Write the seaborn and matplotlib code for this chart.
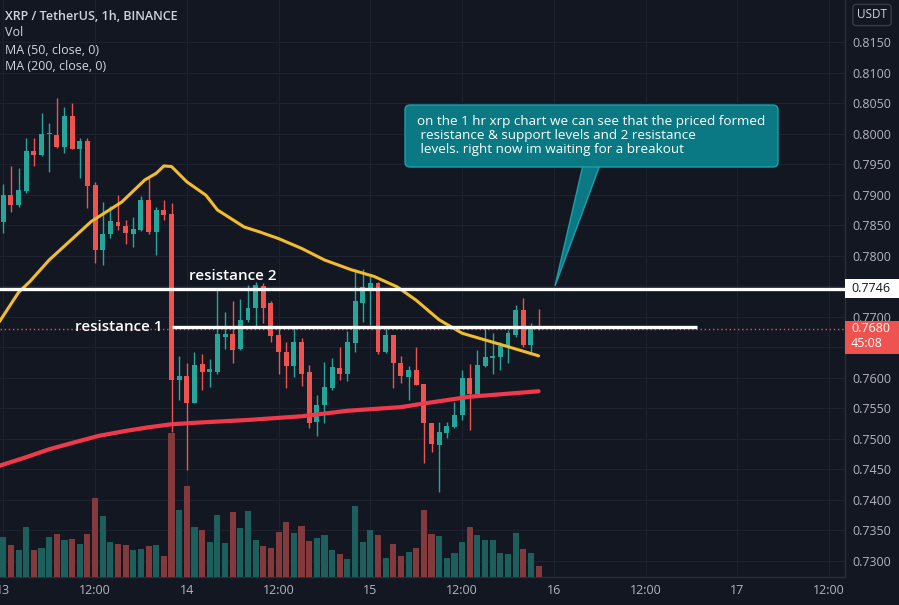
import numpy as np
import pandas as pd
import seaborn as sns
import matplotlib
matplotlib.use("Agg")
import matplotlib.pyplot as plt
from matplotlib.patches import Rectangle, FancyBboxPatch, Polygon
from matplotlib.transforms import blended_transform_factory, IdentityTransform

# ---------------- data (hours since 13 00:00, 1h candles) ----------------
hours = list(range(71))
opens = [0.7855, 0.7899, 0.7883, 0.7906, 0.7971, 0.7965, 0.7999, 0.7998, 0.7978, 0.8029,
         0.7975, 0.7988, 0.7916, 0.7809, 0.7835, 0.7855, 0.7849, 0.7835, 0.7842, 0.7892,
         0.7838, 0.7875, 0.7868, 0.7596, 0.7603, 0.7559, 0.7623, 0.7610, 0.7610, 0.7667,
         0.7671, 0.7647, 0.7694, 0.7715, 0.7750, 0.7722, 0.7670, 0.7643, 0.7619, 0.7659,
         0.7610, 0.7528, 0.7555, 0.7584, 0.7616, 0.7607, 0.7657, 0.7723, 0.7747, 0.7755,
         0.7643, 0.7670, 0.7624, 0.7602, 0.7612, 0.7590, 0.7526, 0.7490, 0.7509, 0.7520,
         0.7539, 0.7599, 0.7573, 0.7619, 0.7633, 0.7634, 0.7652, 0.7670, 0.7711, 0.7654,
         0.7682]
highs = [0.7917, 0.7947, 0.7944, 0.7993, 0.7993, 0.8034, 0.8017, 0.8059, 0.8044, 0.8050,
         0.7993, 0.7993, 0.7921, 0.7888, 0.7881, 0.7899, 0.7858, 0.7864, 0.7898, 0.7927,
         0.7880, 0.7892, 0.7886, 0.7636, 0.7624, 0.7643, 0.7639, 0.7630, 0.7744, 0.7707,
         0.7725, 0.7729, 0.7752, 0.7757, 0.7755, 0.7725, 0.7684, 0.7659, 0.7681, 0.7666,
         0.7621, 0.7572, 0.7626, 0.7632, 0.7650, 0.7677, 0.7778, 0.7779, 0.7768, 0.7757,
         0.7684, 0.7670, 0.7636, 0.7619, 0.7651, 0.7590, 0.7526, 0.7528, 0.7528, 0.7561,
         0.7613, 0.7623, 0.7646, 0.7681, 0.7673, 0.7658, 0.7678, 0.7719, 0.7730, 0.7689,
         0.7712]
lows = [0.7837, 0.7872, 0.7880, 0.7903, 0.7947, 0.7963, 0.7937, 0.7977, 0.7969, 0.7974,
        0.7928, 0.7878, 0.7788, 0.7785, 0.7829, 0.7842, 0.7819, 0.7815, 0.7841, 0.7836,
        0.7801, 0.7858, 0.7511, 0.7564, 0.7449, 0.7558, 0.7580, 0.7585, 0.7607, 0.7648,
        0.7624, 0.7646, 0.7692, 0.7684, 0.7689, 0.7659, 0.7607, 0.7583, 0.7602, 0.7587,
        0.7517, 0.7504, 0.7526, 0.7580, 0.7596, 0.7594, 0.7643, 0.7692, 0.7687, 0.7639,
        0.7640, 0.7583, 0.7591, 0.7564, 0.7588, 0.7460, 0.7479, 0.7413, 0.7501, 0.7517,
        0.7531, 0.7515, 0.7572, 0.7617, 0.7607, 0.7613, 0.7625, 0.7667, 0.7651, 0.7640,
        0.7678]
closes = [0.7899, 0.7883, 0.7908, 0.7971, 0.7965, 0.8000, 0.8001, 0.7978, 0.8029, 0.7975,
          0.7988, 0.7914, 0.7810, 0.7835, 0.7857, 0.7849, 0.7837, 0.7844, 0.7892, 0.7838,
          0.7875, 0.7867, 0.7596, 0.7603, 0.7558, 0.7621, 0.7610, 0.7614, 0.7671, 0.7671,
          0.7646, 0.7695, 0.7715, 0.7752, 0.7714, 0.7668, 0.7643, 0.7619, 0.7659, 0.7607,
          0.7526, 0.7555, 0.7585, 0.7617, 0.7607, 0.7659, 0.7726, 0.7749, 0.7755, 0.7643,
          0.7670, 0.7625, 0.7603, 0.7612, 0.7588, 0.7526, 0.7491, 0.7511, 0.7521, 0.7539,
          0.7599, 0.7573, 0.7621, 0.7634, 0.7636, 0.7652, 0.7673, 0.7711, 0.7654, 0.7681,
          0.7680]
volumes = [120, 97, 80, 150, 82, 87, 120, 130, 110, 114,
           98, 130, 238, 182, 104, 98, 96, 82, 85, 94,
           95, 63, 431, 200, 273, 150, 140, 105, 187, 102,
           195, 147, 198, 110, 93, 87, 135, 164, 132, 153,
           109, 117, 125, 81, 69, 54, 213, 104, 140, 125,
           56, 98, 63, 75, 87, 202, 130, 122, 57, 72,
           105, 150, 125, 110, 110, 72, 68, 133, 84, 72, 33]

ma50_t = [-0.5, 2, 3.5, 6, 11.5, 15.5, 18.5, 20, 21, 22, 24, 26.5, 28, 31.5, 33.5, 36,
          39, 42, 45.5, 48.5, 51.5, 54, 57, 60, 63, 66, 70]
ma50_v = [0.7692, 0.7740, 0.7758, 0.7793, 0.7856, 0.7888, 0.7924, 0.7935, 0.7947, 0.7946,
          0.7921, 0.7899, 0.7875, 0.7847, 0.7839, 0.7828, 0.7812, 0.7793, 0.7777, 0.7766,
          0.7749, 0.7727, 0.7695, 0.7673, 0.7662, 0.7651, 0.7636]
ma200_t = [-0.5, 3, 6, 9.5, 12.5, 16, 19, 22, 26, 32, 39, 45, 52, 55, 61, 70]
ma200_v = [0.7456, 0.7470, 0.7483, 0.7495, 0.7505, 0.7513, 0.7519, 0.7524, 0.7527, 0.7531,
           0.7537, 0.7546, 0.7552, 0.7558, 0.7569, 0.7578]

x_ticks = [0, 12, 24, 36, 48, 60, 72, 84, 96, 108]
x_labels = ["13", "12:00", "14", "12:00", "15", "12:00", "16", "12:00", "17", "12:00"]
price_ticks = [round(0.7300 + 0.005 * k, 4) for k in range(18)]

res2_level = 0.7746
res1_level = 0.7683
res1_start, res1_end = 22.0, 90.7
last_price = 0.7680
countdown = "45:08"
header = ["XRP / TetherUS, 1h, BINANCE", "Vol", "MA (50, close, 0)", "MA (200, close, 0)"]
note_lines = ["on the 1 hr xrp chart we can see that the priced formed",
              " resistance & support levels and 2 resistance",
              " levels. right now im waiting for a breakout"]

# ---------------- style ----------------
BG = "#131722"
UP, DN = "#26a69a", "#ef5350"
VOL_UP, VOL_DN = "#1d5f5d", "#843a3c"
MA50_C, MA200_C = "#f2bd2c", "#f0394b"
TXT = "#d1d4dc"
AX_TXT = "#b2b5be"
GRID = "#1e2230"
NOTE_C = "#0b7983"

sns.set_style("dark")
plt.rcParams["font.family"] = ["Open Sans", "DejaVu Sans"]

W, H = 899, 605
fig = plt.figure(figsize=(W / 100, H / 100), dpi=100, facecolor=BG)
rect = [0, 28 / H, 845 / W, 577 / H]
ax = fig.add_axes(rect)
ax.set_facecolor(BG)

o = np.array(opens); c = np.array(closes); hi = np.array(highs); lo = np.array(lows)
t = np.array(hours, dtype=float)
up = c >= o
cols = np.where(up, UP, DN)

# wicks & bodies
ax.vlines(t, lo, hi, colors=cols, linewidth=1.0, zorder=2)
ax.bar(t, np.maximum(np.abs(c - o), 0.00012), bottom=np.minimum(o, c), width=0.64,
       color=cols, linewidth=0, zorder=3)

# moving averages
sns.lineplot(x=ma200_t, y=ma200_v, ax=ax, color=MA200_C, linewidth=3.0, sort=False, zorder=4)
sns.lineplot(x=ma50_t, y=ma50_v, ax=ax, color=MA50_C, linewidth=2.2, sort=False, zorder=4)

# current price dotted line, resistance lines
ax.axhline(last_price, color=DN, linewidth=1.0, linestyle=(0, (1, 2)), zorder=4.5)
ax.axhline(res2_level, color="white", linewidth=2.4, zorder=5)
ax.hlines(res1_level, res1_start, res1_end, color="white", linewidth=2.4, zorder=5)
ax.text(24.3, 0.7767, "resistance 2", color="white", fontsize=11, fontweight="semibold",
        va="center", ha="left", zorder=6)
ax.text(9.4, res1_level, "resistance 1", color="white", fontsize=11, fontweight="semibold",
        va="center", ha="left", zorder=6)

# axes setup
hidden = {0.7650, 0.7750}
ax.set_xlim(-0.43, 110.07)
ax.set_ylim(0.72738, 0.821875)
ax.set_xticks(x_ticks)
ax.set_xticklabels(x_labels)
ax.set_yticks(price_ticks)
ax.set_yticklabels(["" if v in hidden else f"{v:.4f}" for v in price_ticks])
ax.yaxis.tick_right()
ax.tick_params(axis="y", length=0, pad=5, labelsize=9, labelcolor=AX_TXT)
ax.tick_params(axis="x", length=0, pad=5, labelsize=9, labelcolor=AX_TXT)
ax.grid(True, color=GRID, linewidth=0.8)
ax.set_axisbelow(True)
ax.set_xlabel(""); ax.set_ylabel("")
for s in ["left", "top"]:
    ax.spines[s].set_visible(False)
for s in ["right", "bottom"]:
    ax.spines[s].set_visible(True)
    ax.spines[s].set_color("#2a2e39")
    ax.spines[s].set_linewidth(1)

# volume pane
vax = fig.add_axes(rect, sharex=ax)
vax.patch.set_alpha(0)
df = pd.DataFrame({"t": t, "vol": volumes, "dir": np.where(up, "up", "down")})
sns.barplot(data=df, x="t", y="vol", hue="dir", palette={"up": VOL_UP, "down": VOL_DN},
            native_scale=True, width=0.8, dodge=False, errorbar=None, legend=False,
            saturation=1, linewidth=0, ax=vax)
vax.set_ylim(0, 577 * 3)
vax.set_xlim(-0.43, 110.07)
vax.axis("off")
ax.set_xlim(-0.43, 110.07)

# price labels on the axis
btr = blended_transform_factory(ax.transAxes, ax.transData)
px = 0.00016377
ax.add_patch(Rectangle((1.0, res2_level - 9.5 * px), 54 / 845, 19 * px, transform=btr,
                       facecolor="white", edgecolor="none", clip_on=False, zorder=10))
ax.text(1.0 + 6 / 845, res2_level, f"{res2_level:.4f}", transform=btr, color=BG, fontsize=9,
        va="center", ha="left", clip_on=False, zorder=11)
ax.add_patch(Rectangle((1.0, last_price - 25 * px), 54 / 845, 33 * px, transform=btr,
                       facecolor=DN, edgecolor="none", clip_on=False, zorder=10))
ax.text(1.0 + 6 / 845, last_price, f"{last_price:.4f}", transform=btr, color="white", fontsize=9,
        va="center", ha="left", clip_on=False, zorder=11)
ax.text(1.0 + 6 / 845, last_price - 15 * px, countdown, transform=btr, color="white", fontsize=9,
        va="center", ha="left", clip_on=False, zorder=11)

fig.text(872 / W, 1 - 15 / H, "USDT", ha="center", va="center", fontsize=8.5, color=TXT,
         bbox=dict(boxstyle="round,pad=0.35,rounding_size=0.3", fc=BG, ec="#363a45", lw=1))

# header legend
for k, line in enumerate(header):
    fig.text(5 / W, 1 - (16 + 17 * k) / H, line, ha="left", va="center", fontsize=9,
             color=TXT, fontweight="semibold" if k == 0 else "normal")

# callout note
idt = IdentityTransform()
tail = Polygon([(583, H - 165), (600, H - 165), (555, H - 286)], closed=True,
               facecolor=NOTE_C, edgecolor="#1aa0aa", linewidth=1, transform=idt)
fig.add_artist(tail)
box = FancyBboxPatch((405, H - 167), 373, 62, boxstyle="round,pad=0,rounding_size=5",
                     facecolor=NOTE_C, edgecolor="#1aa0aa", linewidth=1, transform=idt)
fig.add_artist(box)
for k, line in enumerate(note_lines):
    fig.text(417, H - (122 + 14 * k), line, transform=idt, ha="left", va="center",
             fontsize=9.7, color="white")

fig.savefig("out.png", dpi=100, facecolor=BG)
